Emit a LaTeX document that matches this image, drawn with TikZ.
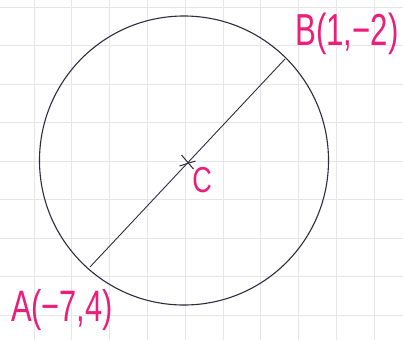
\documentclass[tikz,border=0pt]{standalone}
\usepackage{fontspec}
\setmainfont{Liberation Sans}
\usetikzlibrary{calc}
\definecolor{pen}{RGB}{236,30,122}
\definecolor{ink}{RGB}{45,45,62}
\definecolor{gridc}{RGB}{230,230,233}
\begin{document}
\begin{tikzpicture}[x=1pt,y=-1pt,
  gridline/.style={gridc, line width=0.7pt},
  inkline/.style={ink, line width=1.1pt},
  lbl/.style={text=pen, inner sep=0pt, font=\fontsize{40}{40}\selectfont}]
\useasboundingbox (0,0) rectangle (403,340);
\fill[white] (0,0) rectangle (403,340);
\foreach \i in {0,...,9} \draw[gridline] ({34+37.8*\i},0) -- ({34+37.8*\i},340);
\foreach \j in {0,...,8} \draw[gridline] (0,{7+38.5*\j}) -- (403,{7+38.5*\j});
\coordinate (O) at (184,160.5);
\coordinate (A) at (90,267);
\coordinate (B) at (285,59);
\coordinate (C) at ($(A)!0.5!(B)$);
\draw[inkline] (O) circle[radius=144.5];
\draw[ink, line width=0.9pt] (A) -- (B);
\draw[ink, line width=1pt] ($(C)+(-6,-8)$) -- ($(C)+(6,6)$);
\draw[ink, line width=1pt] ($(C)+(-8,3)$) -- ($(C)+(8,-2)$);
\node[lbl] (labB) at (347,34) {\scalebox{0.78}[1.12]{B(1,−2)}};
\node[lbl] (labA) at (62,310) {\scalebox{0.77}[1.1]{A(−7,4)}};
\node[lbl, font=\fontsize{36}{36}\selectfont] (labC) at (202,180) {\scalebox{0.75}[1]{C}};
\end{tikzpicture}
\end{document}
